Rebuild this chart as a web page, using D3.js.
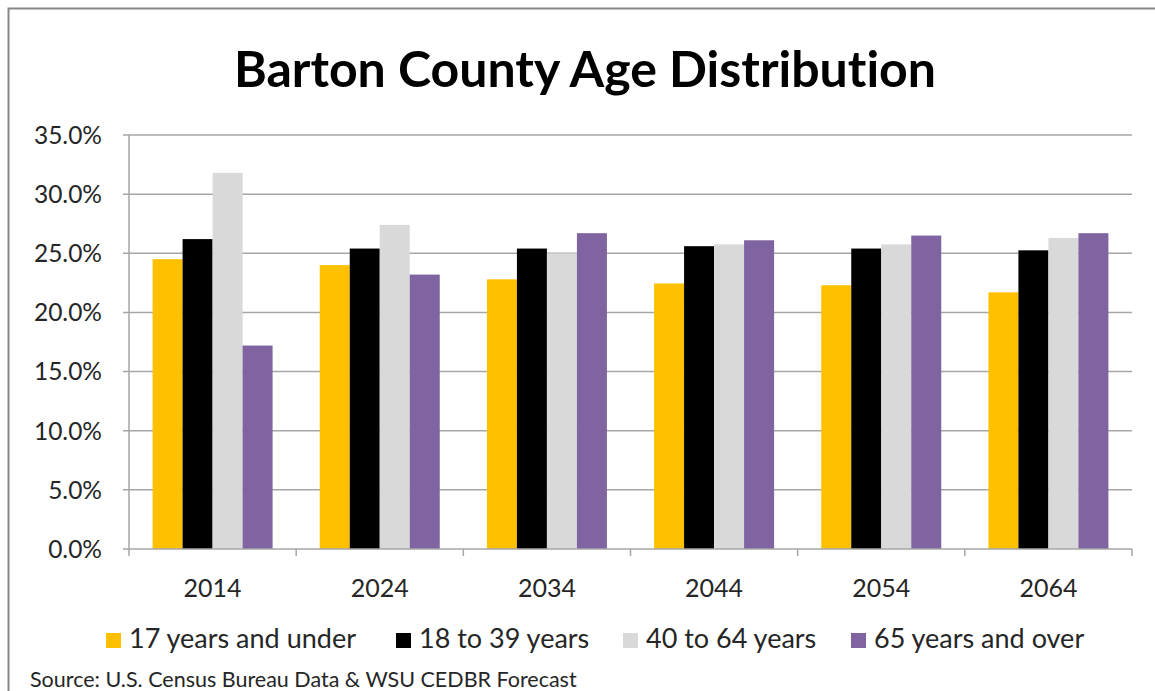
<!DOCTYPE html>
<html><head><meta charset="utf-8">
<script src="https://cdn.jsdelivr.net/npm/d3@7"></script>
<style>html,body{margin:0;padding:0;background:#fff;}svg{display:block;}text{font-variant-ligatures:none;font-feature-settings:"liga" 0;}</style>
</head><body>
<svg id="chart" width="1155" height="691"></svg>
<script>
const years = ["2014","2024","2034","2044","2054","2064"];
const seriesNames = ["17 years and under","18 to 39 years","40 to 64 years","65 years and over"];
const under17 = [24.5, 24.0, 22.8, 22.45, 22.3, 21.7];
const age18to39 = [26.2, 25.4, 25.4, 25.6, 25.4, 25.25];
const age40to64 = [31.8, 27.4, 25.0, 25.75, 25.75, 26.3];
const over65 = [17.2, 23.2, 26.7, 26.1, 26.5, 26.7];
const yTicks = [0, 5, 10, 15, 20, 25, 30, 35];
const colors = ["#FFC000", "#000000", "#D9D9D9", "#8064A2"];
const title = "Barton County Age Distribution";
const source = "Source: U.S. Census Bureau Data & WSU CEDBR Forecast";

const seriesValues = [under17, age18to39, age40to64, over65];
const font = "Lato, 'Open Sans', sans-serif";
const svg = d3.select("#chart");

svg.append("rect").attr("x", 8.5).attr("y", 8.5).attr("width", 1160).attr("height", 700)
  .attr("fill", "#fff").attr("stroke", "#868686").attr("stroke-width", 2);

const plotL = 129, plotR = 1132, plotT = 135, plotB = 549;
const x0 = d3.scaleBand().domain(years).range([plotL, plotR]).paddingInner(0).paddingOuter(0);
const x1 = d3.scaleBand().domain(seriesNames).range([0, x0.bandwidth()]).paddingInner(0).paddingOuter(0.786);
const y = d3.scaleLinear().domain([0, 35]).range([plotB, plotT]);

// gridlines
svg.append("g").selectAll("line").data(yTicks.filter(d => d > 0)).join("line")
  .attr("x1", plotL - 6).attr("x2", plotR).attr("y1", d => y(d)).attr("y2", d => y(d))
  .attr("stroke", "#A6A6A6").attr("stroke-width", 1.5);

// bars
const groups = svg.append("g").selectAll("g").data(years).join("g")
  .attr("transform", d => `translate(${x0(d)},0)`);
groups.selectAll("rect").data((yr, i) => seriesNames.map((s, j) => ({s, j, v: seriesValues[j][i]})))
  .join("rect")
  .attr("x", d => x1(d.s)).attr("width", x1.bandwidth())
  .attr("y", d => y(d.v)).attr("height", d => y(0) - y(d.v))
  .attr("fill", d => colors[d.j]);

// axes lines
svg.append("line").attr("x1", plotL).attr("x2", plotL).attr("y1", plotT).attr("y2", plotB)
  .attr("stroke", "#A6A6A6").attr("stroke-width", 1.5);
svg.append("line").attr("x1", plotL - 6).attr("x2", plotR).attr("y1", plotB).attr("y2", plotB)
  .attr("stroke", "#A6A6A6").attr("stroke-width", 1.5);
// x ticks
const xTickPos = years.map(d => x0(d)).concat([plotR]);
svg.append("g").selectAll("line").data(xTickPos).join("line")
  .attr("x1", d => d).attr("x2", d => d).attr("y1", plotB).attr("y2", plotB + 7)
  .attr("stroke", "#A6A6A6").attr("stroke-width", 1.5);

// y labels
svg.append("g").selectAll("text").data(yTicks).join("text")
  .attr("x", 102).attr("y", d => y(d)).attr("dy", "0.36em")
  .attr("text-anchor", "end").attr("font-family", font).attr("font-size", 24.5).attr("fill", "#262626")
  .text(d => d.toFixed(1) + "%");

// x labels
svg.append("g").selectAll("text").data(years).join("text")
  .attr("x", d => x0(d) + x0.bandwidth() / 2).attr("y", 597)
  .attr("text-anchor", "middle").attr("font-family", font).attr("font-size", 25).attr("fill", "#262626")
  .text(d => d);

// title
svg.append("text").attr("x", 585).attr("y", 87).attr("text-anchor", "middle")
  .attr("font-family", font).attr("font-weight", "bold").attr("font-size", 50).attr("fill", "#000")
  .text(title);

// legend
const legendX = [106, 396, 623, 851];
const lg = svg.append("g").selectAll("g").data(seriesNames).join("g")
  .attr("transform", (d, i) => `translate(${legendX[i]},633)`);
lg.append("rect").attr("width", 15).attr("height", 15).attr("fill", (d, i) => colors[i]);
lg.append("text").attr("x", 23).attr("y", 15).attr("font-family", font).attr("font-size", 27)
  .attr("fill", "#262626").text(d => d);

// source
svg.append("text").attr("x", 30).attr("y", 687).attr("font-family", font).attr("font-size", 21.5)
  .attr("fill", "#262626").text(source);
</script>
</body></html>
